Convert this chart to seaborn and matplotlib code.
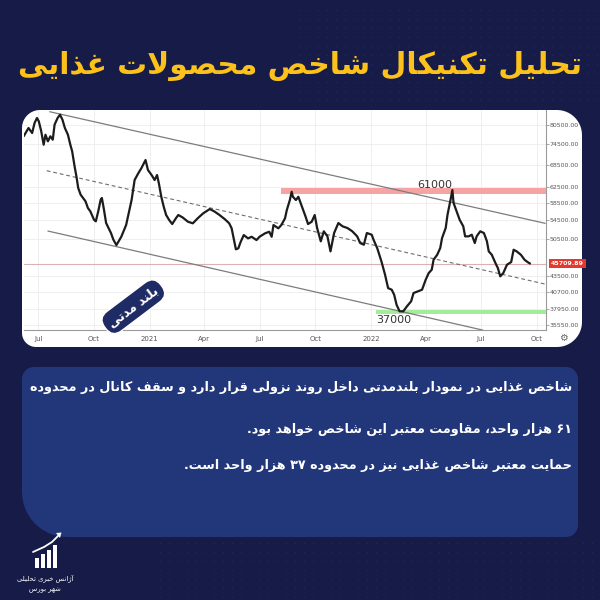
import numpy as np
import pandas as pd
import matplotlib
matplotlib.use("Agg")
import matplotlib.pyplot as plt
import matplotlib.transforms as mtrans
from matplotlib.patches import Polygon, Rectangle
from matplotlib import font_manager
import seaborn as sns

sns.set_style("white")
plt.rcParams["font.family"] = ["DejaVu Sans"]

# ---------------- data ----------------
dates = [
    "2020-06-07", "2020-06-15", "2020-06-21", "2020-06-25", "2020-06-29", "2020-07-02",
    "2020-07-06", "2020-07-10", "2020-07-13", "2020-07-17", "2020-07-21", "2020-07-25",
    "2020-07-28", "2020-08-02", "2020-08-06", "2020-08-10", "2020-08-14", "2020-08-19",
    "2020-08-23", "2020-08-26", "2020-08-30", "2020-09-02", "2020-09-05", "2020-09-09",
    "2020-09-13", "2020-09-17", "2020-09-21", "2020-09-25", "2020-10-01", "2020-10-04",
    "2020-10-08", "2020-10-12", "2020-10-14", "2020-10-17", "2020-10-21", "2020-10-25",
    "2020-10-29", "2020-11-02", "2020-11-07", "2020-11-15", "2020-11-23", "2020-12-02",
    "2020-12-07", "2020-12-13", "2020-12-18", "2020-12-25", "2020-12-29", "2021-01-04",
    "2021-01-09", "2021-01-13", "2021-01-16", "2021-01-20", "2021-01-24", "2021-01-28",
    "2021-02-02", "2021-02-07", "2021-02-13", "2021-02-17", "2021-02-24", "2021-03-05",
    "2021-03-13", "2021-03-21", "2021-03-30", "2021-04-10", "2021-04-18", "2021-04-26",
    "2021-05-05", "2021-05-12", "2021-05-16", "2021-05-20", "2021-05-23", "2021-05-27",
    "2021-05-31", "2021-06-05", "2021-06-12", "2021-06-18", "2021-06-26", "2021-07-01",
    "2021-07-10", "2021-07-17", "2021-07-21", "2021-07-24", "2021-08-01", "2021-08-06",
    "2021-08-12", "2021-08-15", "2021-08-20", "2021-08-23", "2021-08-25", "2021-08-30",
    "2021-09-03", "2021-09-07", "2021-09-11", "2021-09-15", "2021-09-19", "2021-09-25",
    "2021-09-30", "2021-10-04", "2021-10-10", "2021-10-15", "2021-10-21", "2021-10-26",
    "2021-11-01", "2021-11-08", "2021-11-15", "2021-11-23", "2021-12-01", "2021-12-09",
    "2021-12-14", "2021-12-20", "2021-12-25", "2022-01-02", "2022-01-05", "2022-01-11",
    "2022-01-18", "2022-01-24", "2022-01-29", "2022-02-04", "2022-02-08", "2022-02-12",
    "2022-02-17", "2022-02-23", "2022-03-01", "2022-03-08", "2022-03-12", "2022-03-19",
    "2022-03-26", "2022-04-01", "2022-04-06", "2022-04-11", "2022-04-14", "2022-04-20",
    "2022-04-25", "2022-04-28", "2022-05-04", "2022-05-07", "2022-05-12", "2022-05-15",
    "2022-05-17", "2022-05-22", "2022-05-27", "2022-06-02", "2022-06-05", "2022-06-11",
    "2022-06-16", "2022-06-21", "2022-06-24", "2022-06-30", "2022-07-06", "2022-07-11",
    "2022-07-14", "2022-07-19", "2022-07-25", "2022-07-29", "2022-08-02", "2022-08-07",
    "2022-08-13", "2022-08-20", "2022-08-24", "2022-08-29", "2022-09-05", "2022-09-11",
    "2022-09-16", "2022-09-20",
]
values = [
    76870, 79520, 77910, 81160, 82840, 81730,
    78450, 74270, 77370, 75310, 76870, 75810,
    80600, 82840, 83960, 82260, 79520, 77370,
    74270, 72300, 68000, 65280, 62230, 60550,
    59740, 58940, 57340, 56570, 54670, 54310,
    56570, 59320, 59740, 57340, 53930, 52840,
    51780, 50380, 49290, 50990, 53500, 59250,
    64300, 66080, 67440, 69770, 66980, 65620,
    64300, 65620, 63430, 60050, 57650, 55730,
    54600, 53710, 54980, 55730, 55200, 54220,
    53870, 54980, 56110, 57110, 56510, 55730,
    54760, 53870, 52780, 50310, 48440, 48640,
    49970, 51350, 50660, 50990, 50310, 50990,
    51710, 52050, 50990, 53500, 52780, 53500,
    54980, 56880, 59250, 61290, 60050, 59250,
    60050, 58460, 56880, 55340, 53710, 54220,
    55730, 52840, 50050, 52140, 51080, 48040,
    51780, 53930, 53210, 52840, 52140, 51080,
    49700, 49360, 51780, 51420, 50380, 48700,
    46120, 43660, 41350, 41070, 40240, 38620,
    37600, 37600, 38370, 39170, 40520, 40800,
    41070, 42780, 43970, 44570, 46420, 47380,
    48700, 50730, 52840, 55790, 59320, 61720,
    58530, 56570, 54670, 53210, 51080, 51080,
    51420, 49700, 51080, 52140, 51780, 50050,
    48040, 47380, 45800, 44880, 43380, 43970,
    45480, 45990, 48360, 48040, 47380, 46420,
    45990, 45710,
]
last_price = 45709.89

upper_dates = ["2020-07-20", "2022-10-15"]
upper_vals = [84990, 53870]
mid_dates = ["2020-07-15", "2022-10-15"]
mid_vals = [66790, 42030]
lower_dates = ["2020-07-17", "2022-07-04"]
lower_vals = [52200, 34830]

resist_start = "2021-08-05"
resist_range = [60650, 62140]
support_start = "2022-01-09"
support_range = [37140, 37800]

ytick_vals = [80500, 74500, 68500, 62500, 58500, 54500, 50500, 43500, 40700, 37950, 35550]
xtick_dates = ["2020-07-01", "2020-10-01", "2021-01-01", "2021-04-01", "2021-07-01",
               "2021-10-01", "2022-01-01", "2022-04-01", "2022-07-01", "2022-10-01"]
xtick_labels = ["Jul", "Oct", "2021", "Apr", "Jul", "Oct", "2022", "Apr", "Jul", "Oct"]

x_range = ["2020-06-07 14:00", "2022-10-15 22:00"]
y_range = [34840, 85590]

label_high = "61000"
label_low = "37000"
high_pos = ("2022-04-16", 63000)
low_pos = ("2022-02-08", 36280)

title = "تحلیل تکنیکال شاخص محصولات غذایی"
badge = "بلند مدتی"
body_lines = [
    "شاخص غذایی در نمودار بلندمدتی داخل روند نزولی قرار دارد و سقف کانال در محدوده",
    "۶۱ هزار واحد، مقاومت معتبر این شاخص خواهد بود.",
    "حمایت معتبر شاخص غذایی نیز در محدوده ۳۷ هزار واحد است.",
]
logo_lines = ["آژانس خبری تحلیلی", "شهر بورس"]

# ---------------- Persian shaping (presentation forms, visual order) ----------------
FORMS = {
    "ا": ("\uFE8D", "\uFE8E", None, None), "آ": ("\uFE81", "\uFE82", None, None),
    "ب": ("\uFE8F", "\uFE90", "\uFE91", "\uFE92"), "پ": ("\uFB56", "\uFB57", "\uFB58", "\uFB59"),
    "ت": ("\uFE95", "\uFE96", "\uFE97", "\uFE98"), "ث": ("\uFE99", "\uFE9A", "\uFE9B", "\uFE9C"),
    "ج": ("\uFE9D", "\uFE9E", "\uFE9F", "\uFEA0"), "چ": ("\uFB7A", "\uFB7B", "\uFB7C", "\uFB7D"),
    "ح": ("\uFEA1", "\uFEA2", "\uFEA3", "\uFEA4"), "خ": ("\uFEA5", "\uFEA6", "\uFEA7", "\uFEA8"),
    "د": ("\uFEA9", "\uFEAA", None, None), "ذ": ("\uFEAB", "\uFEAC", None, None),
    "ر": ("\uFEAD", "\uFEAE", None, None), "ز": ("\uFEAF", "\uFEB0", None, None),
    "ژ": ("\uFB8A", "\uFB8B", None, None),
    "س": ("\uFEB1", "\uFEB2", "\uFEB3", "\uFEB4"), "ش": ("\uFEB5", "\uFEB6", "\uFEB7", "\uFEB8"),
    "ص": ("\uFEB9", "\uFEBA", "\uFEBB", "\uFEBC"), "ض": ("\uFEBD", "\uFEBE", "\uFEBF", "\uFEC0"),
    "ط": ("\uFEC1", "\uFEC2", "\uFEC3", "\uFEC4"), "ظ": ("\uFEC5", "\uFEC6", "\uFEC7", "\uFEC8"),
    "ع": ("\uFEC9", "\uFECA", "\uFECB", "\uFECC"), "غ": ("\uFECD", "\uFECE", "\uFECF", "\uFED0"),
    "ف": ("\uFED1", "\uFED2", "\uFED3", "\uFED4"), "ق": ("\uFED5", "\uFED6", "\uFED7", "\uFED8"),
    "ک": ("\uFB8E", "\uFB8F", "\uFB90", "\uFB91"), "گ": ("\uFB92", "\uFB93", "\uFB94", "\uFB95"),
    "ل": ("\uFEDD", "\uFEDE", "\uFEDF", "\uFEE0"), "م": ("\uFEE1", "\uFEE2", "\uFEE3", "\uFEE4"),
    "ن": ("\uFEE5", "\uFEE6", "\uFEE7", "\uFEE8"), "ه": ("\uFEE9", "\uFEEA", "\uFEEB", "\uFEEC"),
    "و": ("\uFEED", "\uFEEE", None, None), "ی": ("\uFBFC", "\uFBFD", "\uFBFE", "\uFBFF"),
}
LAM_ALEF = {"ا": ("\uFEFB", "\uFEFC"), "آ": ("\uFEF5", "\uFEF6")}
DIGITS = set("0123456789۰۱۲۳۴۵۶۷۸۹")


def jtype(c):
    if c in FORMS:
        return "D" if FORMS[c][2] else "R"
    return "U"


def shape(text):
    out = []
    n = len(text)
    i = 0
    while i < n:
        c = text[i]
        prev = text[i - 1] if i > 0 else ""
        nxt = text[i + 1] if i + 1 < n else ""
        if c == "ل" and nxt in LAM_ALEF:
            jp = jtype(prev) == "D"
            out.append(LAM_ALEF[nxt][1] if jp else LAM_ALEF[nxt][0])
            i += 2
            continue
        if c in FORMS:
            iso, fin, ini, med = FORMS[c]
            jp = jtype(prev) == "D"
            jn = jtype(c) == "D" and jtype(nxt) in "DR"
            if jp and jn:
                out.append(med)
            elif jp:
                out.append(fin)
            elif jn:
                out.append(ini)
            else:
                out.append(iso)
        else:
            out.append(c)
        i += 1
    tokens = []
    for ch in out:
        if ch in DIGITS and tokens and tokens[-1][0] in DIGITS:
            tokens[-1] += ch
        else:
            tokens.append(ch)
    return "".join(reversed(tokens))


heavy = font_manager.FontProperties(family="DejaVu Sans", weight="bold")

# ---------------- figure ----------------
W, H = 600, 600
BG = "#161b48"
fig = plt.figure(figsize=(6, 6), dpi=100)
fig.patch.set_facecolor(BG)


def rrect(x0, y0, x1, y1, rtl, rtr, rbr, rbl, n=14):
    pts = []

    def arc(cx, cy, r, a0, a1):
        for a in np.linspace(a0, a1, n):
            pts.append((cx + r * np.cos(a), cy + r * np.sin(a)))

    arc(x0 + rtl, y0 + rtl, rtl, np.pi, 1.5 * np.pi)
    arc(x1 - rtr, y0 + rtr, rtr, 1.5 * np.pi, 2 * np.pi)
    arc(x1 - rbr, y1 - rbr, rbr, 0, 0.5 * np.pi)
    arc(x0 + rbl, y1 - rbl, rbl, 0.5 * np.pi, np.pi)
    p = np.array(pts)
    return np.column_stack([p[:, 0] / W, 1 - p[:, 1] / H])


# faint dotted texture in the background
dots = fig.add_axes([0, 0, 1, 1], zorder=-10)
dots.set_axis_off()
dots.set_xlim(0, W)
dots.set_ylim(H, 0)
gx, gy = np.meshgrid(np.arange(300, 600, 9), np.arange(10, 108, 9))
dots.scatter(gx.ravel(), gy.ravel(), s=0.5, color="#262c6a", linewidths=0)
gx2, gy2 = np.meshgrid(np.arange(160, 600, 9), np.arange(543, 600, 9))
dots.scatter(gx2.ravel(), gy2.ravel(), s=0.5, color="#232966", linewidths=0)

# white chart panel
fig.add_artist(Polygon(rrect(22, 110, 582, 347, 18, 25, 25, 14), closed=True,
                       transform=fig.transFigure, facecolor="white", edgecolor="none", zorder=-5))
# text box
fig.add_artist(Polygon(rrect(22, 367, 578, 537, 12, 12, 12, 45), closed=True,
                       transform=fig.transFigure, facecolor="#22367a", edgecolor="none", zorder=-5))

ax = fig.add_axes([24 / W, 1 - 330 / H, (545.7 - 24) / W, (330 - 110) / H], zorder=1)
ax.set_facecolor("none")

df = pd.DataFrame({"date": pd.to_datetime(dates), "value": values})
sns.lineplot(data=df, x="date", y="value", ax=ax, color="#1c1c1c", linewidth=1.6, zorder=6)

ax.set_yscale("log")
ax.set_xlim(pd.to_datetime(x_range[0]), pd.to_datetime(x_range[1]))
ax.set_ylim(*y_range)

# bands
xr_end = pd.to_datetime(x_range[1])
ax.fill_between([pd.to_datetime(resist_start), xr_end], resist_range[0], resist_range[1],
                color="#f5a3a3", lw=0, zorder=3)
ax.fill_between([pd.to_datetime(support_start), xr_end], support_range[0], support_range[1],
                color="#a3ec9c", lw=0, zorder=3)

# current price line
ax.axhline(last_price, color="#d9b3b3", lw=0.8, zorder=2)

# channel
ax.plot(pd.to_datetime(upper_dates), upper_vals, color="#7c7c7c", lw=0.9, zorder=4)
ax.plot(pd.to_datetime(lower_dates), lower_vals, color="#7c7c7c", lw=0.9, zorder=4)
ax.plot(pd.to_datetime(mid_dates), mid_vals, color="#6e6e6e", lw=0.8, ls=(0, (3.5, 2.5)), zorder=4)

# axes styling
ax.minorticks_off()
ax.yaxis.tick_right()
ax.set_yticks(ytick_vals)
ax.set_yticklabels([f"{v:.2f}" for v in ytick_vals])
ax.set_xticks(pd.to_datetime(xtick_dates))
ax.set_xticklabels(xtick_labels)
ax.set_xlabel("")
ax.set_ylabel("")
ax.grid(True, color="#ececec", linewidth=0.6)
ax.set_axisbelow(True)
for s in ["top", "left"]:
    ax.spines[s].set_visible(False)
for s in ["right", "bottom"]:
    ax.spines[s].set_color("#9a9a9a")
    ax.spines[s].set_linewidth(0.8)
ax.tick_params(axis="x", labelsize=5, colors="#9a9a9a", labelcolor="#555555",
               length=2.5, width=0.6, pad=1.5)
ax.tick_params(axis="y", labelsize=4.5, colors="#9a9a9a", labelcolor="#555555",
               length=2, width=0.6, pad=1)

# price tag
blend = mtrans.blended_transform_factory(ax.transAxes, ax.transData)
ax.text(1 + 5 / 521.7, last_price, f"{last_price:.2f}", transform=blend, ha="left", va="center",
        fontsize=4.5, color="white", fontweight="bold", zorder=10, clip_on=False,
        bbox=dict(boxstyle="square,pad=0.35", fc="#e5392e", ec="none"))

# annotations
ax.text(pd.to_datetime(high_pos[0]), high_pos[1], label_high, ha="center", va="center",
        fontsize=8, color="#333333", zorder=8)
ax.text(pd.to_datetime(low_pos[0]), low_pos[1], label_low, ha="center", va="center",
        fontsize=8, color="#333333", zorder=8)

# gear icon
fig.text(563 / W, 1 - 338 / H, "\u2699", fontsize=7, color="#666666", ha="center", va="center")

# badge
fig.text(133.3 / W, 1 - 306.7 / H, shape(badge), rotation=37, rotation_mode="anchor",
         ha="center", va="center", fontsize=9, color="white", fontweight="bold", zorder=5,
         bbox=dict(boxstyle="round,pad=0.45,rounding_size=0.9", fc="#1e2b64", ec="white", lw=1.0))

# title
t_title = fig.text(0.5, 1 - 66 / H, shape(title), ha="center", va="center",
                   fontproperties=heavy, color="#fcc21b")
t_title.set_fontsize(30)

# body text
body_y = [388, 429, 466]
t_body = []
for s, y in zip(body_lines, body_y):
    t = fig.text(572 / W, 1 - y / H, shape(s), ha="right", va="center",
                 fontproperties=heavy, color="white")
    t.set_fontsize(11)
    t_body.append(t)

# logo
bars_x = [35, 41, 47, 53]
bars_top = [558, 554, 550, 545]
for bx, bt in zip(bars_x, bars_top):
    fig.add_artist(Rectangle((bx / W, 1 - 568 / H), 4.2 / W, (568 - bt) / H,
                             transform=fig.transFigure, facecolor="white", edgecolor="none"))
fig.add_artist(plt.Line2D([33 / W, 44 / W, 52 / W, 59 / W],
                          [1 - 552 / H, 1 - 547 / H, 1 - 542 / H, 1 - 535 / H],
                          transform=fig.transFigure, color="white", lw=1.3))
fig.add_artist(Polygon([[56 / W, 1 - 533 / H], [61.5 / W, 1 - 532.5 / H], [60 / W, 1 - 538 / H]],
                       closed=True, transform=fig.transFigure, facecolor="white", edgecolor="none"))
t_logo1 = fig.text(45 / W, 1 - 578 / H, shape(logo_lines[0]), ha="center", va="center",
                   fontsize=5.5, color="white")
t_logo2 = fig.text(45 / W, 1 - 590 / H, shape(logo_lines[1]), ha="center", va="center",
                   fontsize=5.5, color="white")

# fit widths of the Persian texts to the reference layout
renderer = fig.canvas.get_renderer()


def fit(t, target):
    w = t.get_window_extent(renderer).width
    t.set_fontsize(t.get_fontsize() * target / w)


fit(t_title, 562)
fit(t_body[0], 539)
for t in t_body[1:]:
    t.set_fontsize(t_body[0].get_fontsize())
fit(t_logo1, 56)
t_logo2.set_fontsize(t_logo1.get_fontsize())

fig.savefig("out.png", dpi=100, facecolor=fig.get_facecolor())
